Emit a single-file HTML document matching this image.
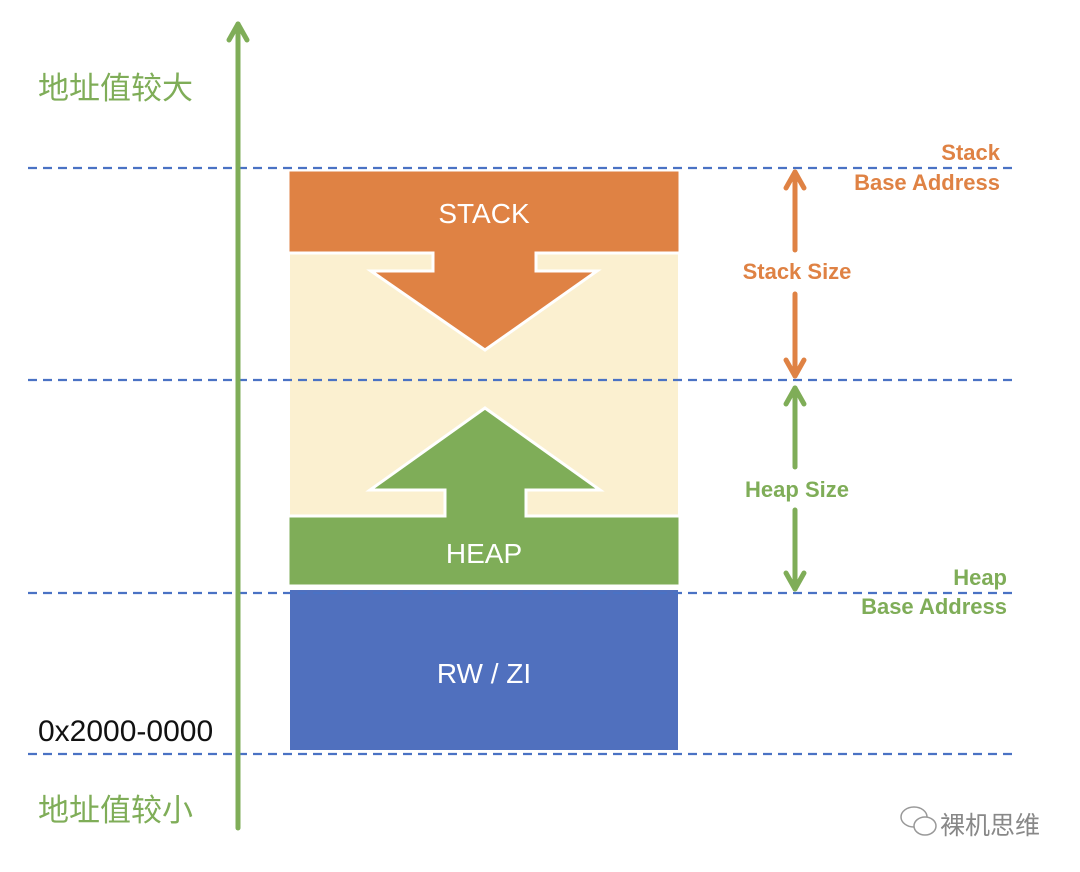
<!DOCTYPE html>
<html><head><meta charset="utf-8"><style>
html,body{margin:0;padding:0;background:#fff;}
svg{display:block;}
</style></head><body>
<svg width="1080" height="872" viewBox="0 0 1080 872" xmlns="http://www.w3.org/2000/svg" font-family="Liberation Sans, Noto Sans CJK SC, sans-serif">
<rect x="0" y="0" width="1080" height="872" fill="#fff"/>
<rect x="290" y="253" width="388" height="262" fill="#fbf0d0"/>
<rect x="290" y="590" width="388" height="160" fill="#5070be"/>
<text x="484" y="683" font-size="28" fill="#fff" text-anchor="middle">RW / ZI</text>
<path d="M288 170 H680 V253 H536 V271 H597 L485 350 L371 271 H433 V253 H288 Z" fill="#df8244" stroke="#fff" stroke-width="3" stroke-linejoin="miter"/>
<text x="484" y="223" font-size="28" fill="#fff" text-anchor="middle">STACK</text>
<path d="M288 516 H445 V490 H370 L485 408 L600 490 H526 V516 H680 V586 H288 Z" fill="#7fad58" stroke="#fff" stroke-width="3"/>
<text x="484" y="563" font-size="28" fill="#fff" text-anchor="middle">HEAP</text>
<g stroke="#4a72c4" stroke-width="2.2" stroke-dasharray="9,6">
<line x1="28" y1="168" x2="1013" y2="168"/>
<line x1="28" y1="380" x2="1013" y2="380"/>
<line x1="28" y1="593" x2="1013" y2="593"/>
<line x1="28" y1="754" x2="1013" y2="754"/>
</g>
<g stroke="#7fad58" stroke-width="5" fill="none" stroke-linecap="round" stroke-linejoin="round">
<line x1="238" y1="828" x2="238" y2="24"/>
<polyline points="229,40 238,24 247,40"/>
</g>
<text x="38" y="99" font-size="31" fill="#7fad58">地址值较大</text>
<text x="38" y="821" font-size="31" fill="#7fad58">地址值较小</text>
<text x="38" y="741" font-size="30" fill="#111">0x2000-0000</text>
<g stroke="#df8244" stroke-width="5" fill="none" stroke-linecap="round" stroke-linejoin="round">
<line x1="795" y1="172" x2="795" y2="250"/>
<polyline points="786,188 795,172 804,188"/>
<line x1="795" y1="294" x2="795" y2="376"/>
<polyline points="786,360 795,376 804,360"/>
</g>
<text x="797" y="279" font-size="22" font-weight="bold" fill="#df8244" text-anchor="middle">Stack Size</text>
<g stroke="#7fad58" stroke-width="5" fill="none" stroke-linecap="round" stroke-linejoin="round">
<line x1="795" y1="388" x2="795" y2="467"/>
<polyline points="786,404 795,388 804,404"/>
<line x1="795" y1="510" x2="795" y2="589"/>
<polyline points="786,573 795,589 804,573"/>
</g>
<text x="797" y="497" font-size="22" font-weight="bold" fill="#7fad58" text-anchor="middle">Heap Size</text>
<text x="1000" y="160" font-size="22" font-weight="bold" fill="#df8244" text-anchor="end">Stack</text>
<text x="1000" y="190" font-size="22" font-weight="bold" fill="#df8244" text-anchor="end">Base Address</text>
<text x="1007" y="585" font-size="22" font-weight="bold" fill="#7fad58" text-anchor="end">Heap</text>
<text x="1007" y="614" font-size="22" font-weight="bold" fill="#7fad58" text-anchor="end">Base Address</text>
<g stroke="#999" stroke-width="1.5" fill="#fff">
<ellipse cx="914" cy="817" rx="13" ry="10"/>
<ellipse cx="925" cy="826" rx="11" ry="9"/>
</g>
<text x="940" y="834" font-size="25" fill="#888">裸机思维</text>
</svg>
</body></html>
